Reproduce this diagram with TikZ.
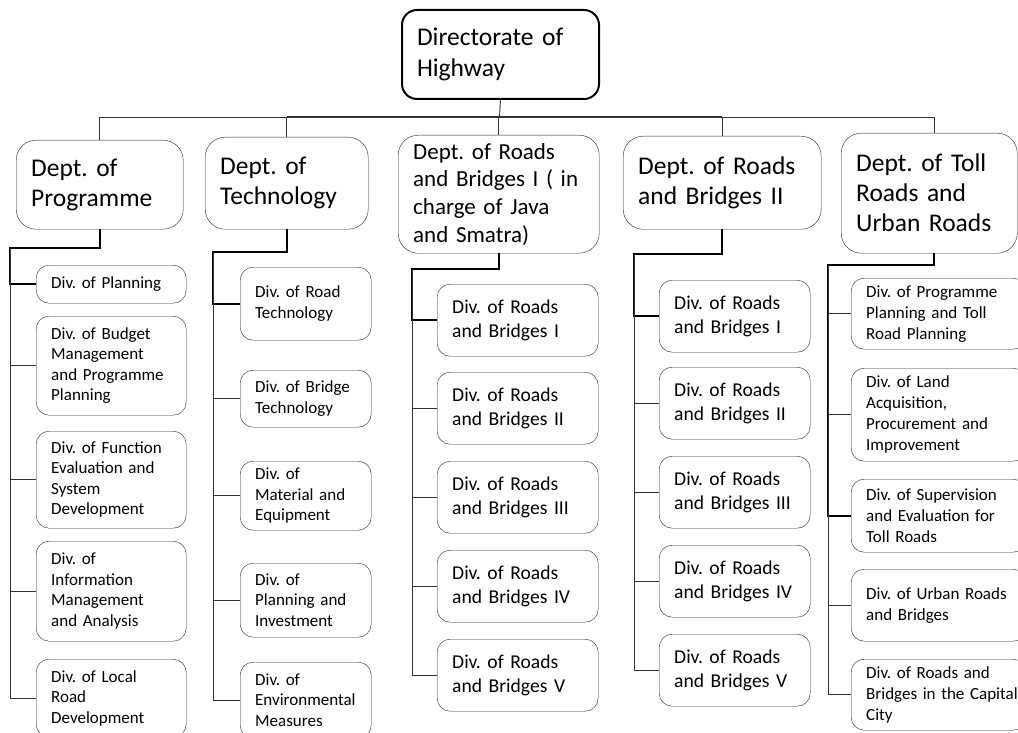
\documentclass[tikz,border=0pt]{standalone}
\usepackage{fontspec}
\setmainfont{Carlito}
\frenchspacing
\begin{document}
\begin{tikzpicture}[x=1pt,y=-1pt,
    flush/.style={execute at begin node={\hyphenpenalty=10000\rightskip=0pt plus 1fil minus 80pt}},
    dept/.style={draw=black!85,rounded corners=20pt,anchor=north west,inner xsep=15pt,inner ysep=2pt,flush,font=\fontsize{25.5}{30}\selectfont},
    div/.style={draw=black!85,rounded corners=13pt,anchor=north west,inner xsep=15pt,inner ysep=1pt,flush},
    progdiv/.style={div,minimum width=150pt,text width=120pt,font=\fontsize{17}{20.5}\selectfont},
    techdiv/.style={div,minimum width=131pt,text width=101pt,font=\fontsize{17}{20.5}\selectfont},
    rbdiv/.style={div,text width=#1,font=\fontsize{19.6}{24}\selectfont},
    tolldiv/.style={div,minimum width=175pt,text width=145pt,font=\fontsize{17}{21}\selectfont},
    link/.style={draw=black!80,line width=0.9pt},
    trunk/.style={draw=black,line width=2pt}]
  \useasboundingbox (0,0) rectangle (1018,733);

  % top and departments
  \node[dept,draw=black,line width=2pt,rounded corners=15pt,minimum width=197pt,minimum height=89pt,text width=167pt,
        font=\fontsize{25.5}{31}\selectfont] (dir) at (401,9) {Directorate of\\Highway};
  \node[dept,minimum width=167pt,minimum height=89pt,text width=137pt] (prog) at (16,140) {Dept. of\\Programme};
  \node[dept,minimum width=163pt,minimum height=92pt,text width=133pt] (tech) at (205,137) {Dept. of\\Technology};
  \node[dept,minimum width=201pt,minimum height=118pt,text width=171pt,inner ysep=0pt,
        font=\fontsize{23}{27.7}\selectfont] (rbone) at (398,135) {Dept. of Roads\\and Bridges I ( in\\charge of Java\\and Smatra)};
  \node[dept,minimum width=198pt,minimum height=93pt,text width=168pt] (rbtwo) at (623,136) {Dept. of Roads\\and Bridges II};
  \node[dept,minimum width=176pt,minimum height=120pt,text width=146pt] (toll) at (841,133) {Dept. of Toll\\Roads and\\Urban Roads};

  \coordinate (bus) at (499.5,117);
  \draw[link] (dir.south) -- (bus);
  \foreach \d in {prog,tech,rbone,rbtwo}
    \draw[link] (bus) -| (\d.north);
  \draw[link] (bus) -| ([xshift=5pt]toll.north);
  \draw[link,line width=1.6pt] (bus -| tech.north) -- (bus -| rbtwo.north);

  % Dept. of Programme
  \node[progdiv,minimum height=38pt] (p1) at (36,265) {Div. of Planning};
  \node[progdiv,minimum height=99pt] (p2) at (36,316) {Div. of Budget\\Management\\and Programme\\Planning};
  \node[progdiv,minimum height=97pt,minimum width=147pt] (p3) at (36,431) {Div. of Function\\Evaluation and\\System\\Development};
  \node[progdiv,minimum height=100pt] (p4) at (36,541) {Div. of\\Information\\Management\\and Analysis};
  \node[progdiv,minimum height=78pt] (p5) at (36,659) {Div. of Local\\Road\\Development};
  \coordinate (pe) at (10,248);
  \draw[trunk] (prog.south) |- (pe) |- (p1.west);
  \foreach \i in {2,...,5}
    \draw[link] (pe) |- (p\i.west);

  % Dept. of Technology
  \node[techdiv,minimum height=73pt] (t1) at (240,267) {Div. of Road\\Technology};
  \node[techdiv,minimum height=57pt] (t2) at (240,370) {Div. of Bridge\\Technology};
  \node[techdiv,minimum height=69pt,minimum width=127pt] (t3) at (240,461) {Div. of\\Material and\\Equipment};
  \node[techdiv,minimum height=74pt] (t4) at (240,563) {Div. of\\Planning and\\Investment};
  \node[techdiv,minimum height=76pt] (t5) at (240,662) {Div. of\\Environmental\\Measures};
  \coordinate (te) at (213,252);
  \draw[trunk] (tech.south) |- (te) |- (t1.west);
  \foreach \i in {2,...,5}
    \draw[link] (te) |- (t\i.west);

  % Dept. of Roads and Bridges I
  \foreach \i/\r/\y in {1/I/284,2/II/372,3/III/461,4/IV/550,5/V/639}
    \node[rbdiv=131pt,minimum width=161pt,minimum height=72pt] (a\i) at (437,\y) {Div. of Roads\\and Bridges \r};
  \coordinate (ae) at (412,269);
  \draw[trunk] (rbone.south) |- (ae) |- (a1.west);
  \foreach \i in {2,...,5}
    \draw[link] (ae) |- (a\i.west);

  % Dept. of Roads and Bridges II
  \foreach \i/\r/\y in {1/I/280,2/II/367,3/III/456,4/IV/545,5/V/634}
    \node[rbdiv=121pt,minimum width=151pt,minimum height=72pt] (b\i) at (659,\y) {Div. of Roads\\and Bridges \r};
  \coordinate (be) at (634,254);
  \draw[trunk] (rbtwo.south) |- (be) |- (b1.west);
  \foreach \i in {2,...,5}
    \draw[link] (be) |- (b\i.west);

  % Dept. of Toll Roads and Urban Roads
  \node[tolldiv,minimum height=71pt] (c1) at (851,278) {Div. of Programme\\Planning and Toll\\Road Planning};
  \node[tolldiv,minimum height=93pt,minimum width=165pt] (c2) at (851,368) {Div. of Land\\Acquisition,\\Procurement and\\Improvement};
  \node[tolldiv,minimum height=73pt] (c3) at (851,479) {Div. of Supervision\\and Evaluation for\\Toll Roads};
  \node[tolldiv,minimum height=72pt] (c4) at (851,569) {Div. of Urban Roads\\and Bridges};
  \node[tolldiv,minimum height=71pt] (c5) at (851,659) {Div. of Roads and\\Bridges in the Capital\\City};
  \coordinate (ce) at (828,265);
  \draw[trunk] ([xshift=5pt]toll.south) |- (ce) |- (c3.west);
  \foreach \i in {1,2,4,5}
    \draw[link] (ce) |- (c\i.west);
\end{tikzpicture}
\end{document}
